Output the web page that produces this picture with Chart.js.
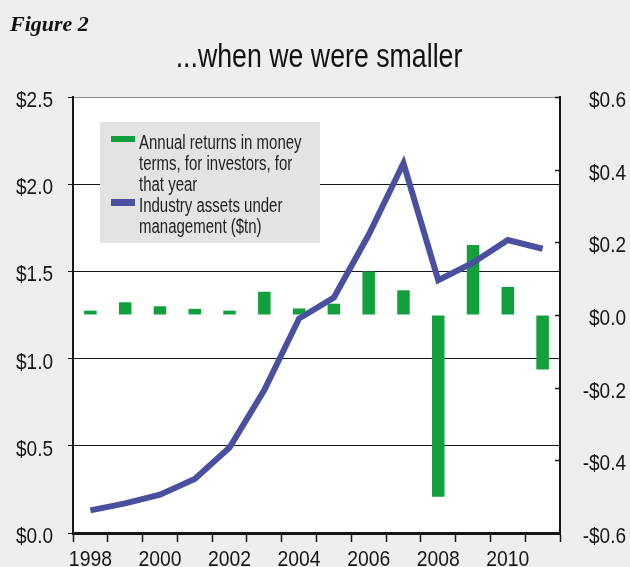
<!DOCTYPE html>
<html>
<head>
<meta charset="utf-8">
<script src="https://cdn.jsdelivr.net/npm/chart.js@4/dist/chart.umd.min.js"></script>
<style>
  html, body { margin: 0; padding: 0; background: #eeeeee; }
  #wrap { position: relative; width: 630px; height: 567px; }
</style>
</head>
<body>
<div id="wrap"><canvas id="fig2" width="630" height="567"></canvas></div>
<script>
// Years on the x axis
const years = ['1998', '1999', '2000', '2001', '2002', '2003', '2004',
               '2005', '2006', '2007', '2008', '2009', '2010', '2011'];
// Industry assets under management, $tn (left axis)
const assets = [0.13, 0.17, 0.22, 0.31, 0.49, 0.82, 1.23,
                1.35, 1.71, 2.12, 1.45, 1.55, 1.68, 1.63];
// Annual returns in money terms, $tn (right axis)
const returns = [0.012, 0.035, 0.024, 0.017, 0.012, 0.064, 0.018,
                 0.031, 0.12, 0.068, -0.50, 0.193, 0.077, -0.15];
// Legend text, one array of lines per series
const returnsLabel = ['Annual returns in money', 'terms, for investors, for', 'that year'];
const assetsLabel = ['Industry assets under', 'management ($tn)'];
const titleText = '...when we were smaller';
const figureText = 'Figure 2';

const SANS = "'Liberation Sans', Arial, sans-serif";
const GREEN = '#12a03c';
const BLUE = '#4a50a0';
const INK = '#161616';

function money(v) {
    const s = '$' + Math.abs(v).toFixed(1);
    return v < -1e-9 ? '-' + s : s;
}

// condensed look: squeeze the text horizontally
function squeezed(ctx, text, x, y, align, sx, font) {
    ctx.save();
    ctx.translate(x, y);
    ctx.scale(sx, 1);
    ctx.font = font;
    ctx.textAlign = align;
    ctx.textBaseline = 'alphabetic';
    ctx.fillText(text, 0, 0);
    ctx.restore();
}

const decorations = {
    id: 'decorations',
    beforeDraw(chart) {
        const { ctx, chartArea: a } = chart;
        ctx.save();
        ctx.fillStyle = '#ffffff';
        ctx.fillRect(a.left, a.top, a.right - a.left, a.bottom - a.top);

        ctx.fillStyle = '#111';
        ctx.font = "bold italic 22px 'Liberation Serif', 'DejaVu Serif', serif";
        ctx.textAlign = 'left';
        ctx.textBaseline = 'alphabetic';
        ctx.fillText(figureText, 10, 31);

        squeezed(ctx, titleText, 319, 67, 'center', 0.81, '33px ' + SANS);
        ctx.restore();
    },
    beforeDatasetsDraw(chart) {
        // grey legend box inside the plot
        const { ctx } = chart;
        ctx.save();
        ctx.fillStyle = '#e3e3e3';
        ctx.fillRect(100, 122, 220, 121);

        ctx.fillStyle = GREEN;
        ctx.fillRect(111, 136, 24, 6);
        ctx.fillStyle = BLUE;
        ctx.fillRect(111, 199, 24, 7);

        ctx.fillStyle = '#222';
        const lines = returnsLabel.concat(assetsLabel);
        const base = [149, 170, 191, 212, 233];
        lines.forEach((t, i) => squeezed(ctx, t, 139, base[i], 'left', 0.75, '20px ' + SANS));
        ctx.restore();
    },
    afterDraw(chart) {
        const { ctx } = chart;
        const x = chart.scales.x;
        const yl = chart.scales.yLeft;
        const yr = chart.scales.yRight;
        const tickFont = '22px ' + SANS;
        ctx.save();
        ctx.fillStyle = INK;

        // inward tick marks on the right axis
        ctx.strokeStyle = INK;
        ctx.lineWidth = 1.5;
        yr.ticks.forEach(t => {
            const py = Math.round(yr.getPixelForValue(t.value)) + 0.5;
            ctx.beginPath();
            ctx.moveTo(yr.left - 5, py);
            ctx.lineTo(yr.left, py);
            ctx.stroke();
        });

        yl.ticks.forEach(t => {
            const py = yl.getPixelForValue(t.value);
            squeezed(ctx, money(t.value), 53, py + 10, 'right', 0.865, tickFont);
        });
        yr.ticks.forEach(t => {
            const py = yr.getPixelForValue(t.value);
            squeezed(ctx, money(t.value), 626, py + 10, 'right', 0.865, tickFont);
        });
        years.forEach((y, i) => {
            if (i % 2 !== 0) return;
            squeezed(ctx, y, x.getPixelForValue(i), 566, 'center', 0.88, tickFont);
        });
        ctx.restore();
    }
};

new Chart(document.getElementById('fig2'), {
    data: {
        labels: years,
        datasets: [
            {
                type: 'line',
                label: assetsLabel.join(' '),
                data: assets,
                yAxisID: 'yLeft',
                borderColor: BLUE,
                borderWidth: 6,
                pointRadius: 0,
                tension: 0,
                order: 0
            },
            {
                type: 'bar',
                label: returnsLabel.join(' '),
                data: returns,
                yAxisID: 'yRight',
                backgroundColor: GREEN,
                borderWidth: 0,
                barPercentage: 0.36,
                categoryPercentage: 1,
                order: 1
            }
        ]
    },
    options: {
        responsive: false,
        animation: false,
        layout: { padding: { top: 97, left: 0, right: 4, bottom: 0 } },
        plugins: {
            legend: { display: false },
            title: { display: false },
            tooltip: { enabled: false }
        },
        scales: {
            x: {
                type: 'category',
                offset: true,
                afterFit: s => { s.height = 34; },
                grid: {
                    offset: true,
                    drawOnChartArea: false,
                    tickLength: 9,
                    tickColor: INK,
                    tickWidth: 1.5
                },
                border: { color: INK, width: 3 },
                ticks: { display: false, autoSkip: false }
            },
            yLeft: {
                position: 'left',
                min: 0,
                max: 2.5,
                afterFit: s => { s.width = 73; },
                grid: {
                    color: ctx => (ctx.tick && ctx.tick.value === 2.5 ? '#8a8a8a' : INK),
                    lineWidth: 1,
                    tickLength: 5,
                    tickColor: INK
                },
                border: { color: INK, width: 2 },
                ticks: { display: false, stepSize: 0.5 }
            },
            yRight: {
                position: 'right',
                min: -0.6,
                max: 0.6,
                afterFit: s => { s.width = 66; },
                grid: { drawOnChartArea: false, drawTicks: false },
                border: { color: INK, width: 2 },
                ticks: { display: false, stepSize: 0.2 }
            }
        }
    },
    plugins: [decorations]
});
</script>
</body>
</html>
